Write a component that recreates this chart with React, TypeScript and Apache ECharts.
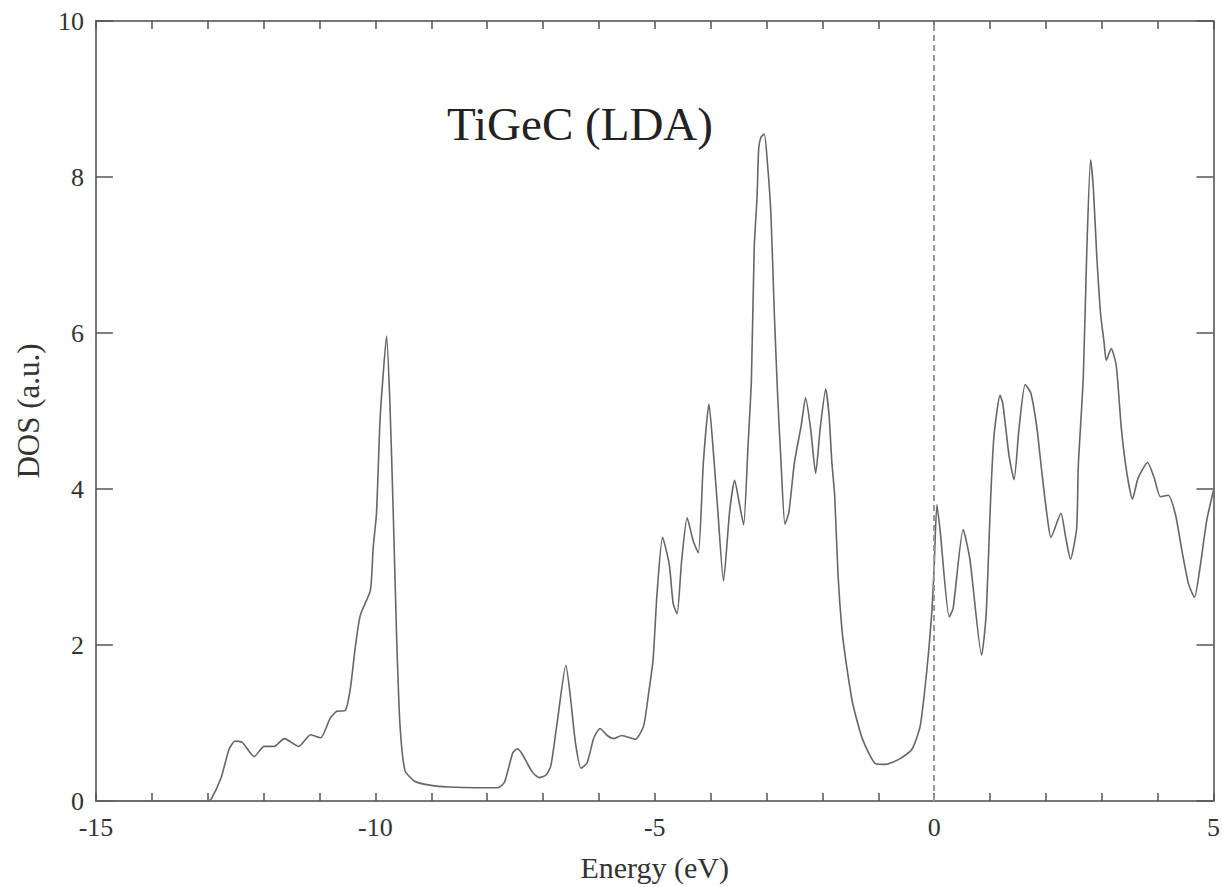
import React, { useEffect, useRef } from "react";
import * as echarts from "echarts";

const energy: number[] = [
  -15, -13.0, -12.94, -12.76, -12.62, -12.51, -12.38, -12.17, -11.99, -11.81, -11.63, -11.37,
  -11.16, -10.98, -10.81, -10.69, -10.54, -10.45, -10.36, -10.27, -10.09, -10.04, -9.98, -9.92,
  -9.88, -9.8, -9.74, -9.68, -9.62, -9.56, -9.47, -9.29, -9.0, -8.7, -8.2, -7.81, -7.69, -7.54,
  -7.46, -7.37, -7.19, -7.07, -6.95, -6.86, -6.74, -6.59, -6.51, -6.42, -6.32, -6.21, -6.09,
  -5.98, -5.85, -5.73, -5.59, -5.35, -5.2, -5.11, -5.03, -4.96, -4.86, -4.74, -4.67, -4.6,
  -4.52, -4.42, -4.31, -4.22, -4.13, -4.03, -3.96, -3.87, -3.77, -3.66, -3.57, -3.48, -3.41,
  -3.33, -3.27, -3.22, -3.17, -3.14, -3.1, -3.04, -2.98, -2.92, -2.86, -2.8, -2.74, -2.67,
  -2.6, -2.5, -2.38, -2.3, -2.21, -2.12, -2.04, -1.94, -1.88, -1.83, -1.78, -1.72, -1.65,
  -1.58, -1.46, -1.28, -1.05, -0.87, -0.64, -0.4, -0.25, -0.13, -0.04, 0.0, 0.05, 0.11, 0.27,
  0.34, 0.52, 0.64, 0.85, 0.93, 1.01, 1.07, 1.18, 1.23, 1.34, 1.43, 1.52, 1.63, 1.73, 1.84,
  1.93, 2.02, 2.09, 2.27, 2.35, 2.44, 2.55, 2.58, 2.67, 2.73, 2.8, 2.85, 2.91, 2.98, 3.04,
  3.08, 3.17, 3.26, 3.35, 3.45, 3.55, 3.65, 3.82, 3.94, 4.05, 4.19, 4.32, 4.43, 4.55, 4.66,
  4.76, 4.88, 5.0,
];

const dos: number[] = [
  0, 0, 0.02, 0.3, 0.66, 0.77, 0.75, 0.57, 0.7, 0.7, 0.8, 0.7,
  0.85, 0.81, 1.06, 1.15, 1.16, 1.43, 1.97, 2.38, 2.7, 3.24, 3.69, 4.83,
  5.28, 5.96, 5.1, 3.69, 2.11, 0.98, 0.39, 0.25, 0.2, 0.18, 0.17, 0.17, 0.24, 0.62,
  0.67, 0.6, 0.37, 0.3, 0.33, 0.45, 1.04, 1.74, 1.34, 0.75, 0.42, 0.49, 0.81,
  0.93, 0.84, 0.8, 0.84, 0.79, 0.96, 1.38, 1.81, 2.65, 3.38, 3.03, 2.53, 2.4,
  3.07, 3.63, 3.33, 3.18, 4.34, 5.09, 4.56, 3.71, 2.82, 3.71, 4.11, 3.79, 3.54,
  4.56, 5.4, 7.09, 7.73, 8.36, 8.51, 8.55, 8.15, 7.51, 6.25, 5.19, 4.34, 3.55,
  3.7, 4.34, 4.81, 5.17, 4.77, 4.2, 4.77, 5.28, 4.94, 4.34, 3.92, 2.9, 2.2,
  1.8, 1.26, 0.79, 0.48, 0.47, 0.53, 0.66, 0.96, 1.68, 2.44, 3.0, 3.8, 3.45, 2.36,
  2.47, 3.48, 3.1, 1.87, 2.38, 3.85, 4.67, 5.2, 5.09, 4.43, 4.12, 4.78, 5.34, 5.23, 4.78,
  4.2, 3.67, 3.38, 3.69, 3.4, 3.1, 3.49, 4.29, 5.44, 7.0, 8.22, 7.85, 7.0, 6.24, 5.89,
  5.65, 5.8, 5.58, 4.78, 4.2, 3.87, 4.14, 4.34, 4.14, 3.9, 3.92, 3.67, 3.23, 2.79, 2.61,
  3.0, 3.6, 3.98,
];

const xMajorLabels: number[] = [-15, -10, -5, 0, 5];
const fermiLevel: number[] = [0];
const chartTitle = "TiGeC (LDA)";
const xName = "Energy (eV)";
const yName = "DOS (a.u.)";

const FONT = "'Liberation Serif', 'DejaVu Serif', serif";

export default function App() {
  const ref = useRef<HTMLDivElement>(null);

  useEffect(() => {
    if (!ref.current) return;
    const chart = echarts.init(ref.current, null, { renderer: "svg" });
    const points = energy.map((e, i) => [e, dos[i]]);

    const axisLine = { show: true, onZero: false, lineStyle: { color: "#777", width: 2 } };
    const xTick = { show: true, inside: true, length: 8, lineStyle: { color: "#555", width: 1.5 } };
    const yTick = { show: true, inside: true, length: 17, lineStyle: { color: "#555", width: 1.5 } };

    chart.setOption({
      animation: false,
      backgroundColor: "#fff",
      title: {
        text: chartTitle,
        left: 447,
        top: 100,
        padding: 0,
        textStyle: { fontFamily: FONT, fontSize: 47, fontWeight: "normal", color: "#222" },
      },
      grid: { left: 96, top: 21, width: 1124, height: 788, containLabel: false },
      xAxis: [
        {
          type: "value",
          position: "bottom",
          min: -15,
          max: 5,
          interval: 1,
          axisLine,
          axisTick: xTick,
          splitLine: { show: false },
          axisLabel: {
            formatter: (v: number) => (xMajorLabels.includes(v) ? String(v) : ""),
            fontFamily: FONT,
            fontSize: 26,
            color: "#333",
            margin: 13,
            showMinLabel: true,
            showMaxLabel: true,
          },
          name: xName,
          nameLocation: "middle",
          nameGap: 51,
          nameTextStyle: { fontFamily: FONT, fontSize: 30, color: "#333" },
        },
        {
          type: "value",
          position: "top",
          min: -15,
          max: 5,
          interval: 1,
          axisLine,
          axisTick: xTick,
          splitLine: { show: false },
          axisLabel: { show: false },
        },
      ],
      yAxis: [
        {
          type: "value",
          position: "left",
          min: 0,
          max: 10,
          interval: 2,
          axisLine,
          axisTick: yTick,
          splitLine: { show: false },
          axisLabel: { fontFamily: FONT, fontSize: 26, color: "#333", margin: 12 },
          name: yName,
          nameLocation: "middle",
          nameGap: 52,
          nameTextStyle: { fontFamily: FONT, fontSize: 31, color: "#333" },
        },
        {
          type: "value",
          position: "right",
          min: 0,
          max: 10,
          interval: 2,
          axisLine,
          axisTick: yTick,
          splitLine: { show: false },
          axisLabel: { show: false },
        },
      ],
      series: [
        {
          type: "line",
          data: points,
          xAxisIndex: 0,
          yAxisIndex: 0,
          showSymbol: false,
          smooth: 0.2,
          lineStyle: { color: "#666", width: 1.6 },
          markLine: {
            silent: true,
            symbol: ["none", "none"],
            label: { show: false },
            lineStyle: { color: "#999", width: 2, type: [6, 4] },
            data: fermiLevel.map((x) => ({ xAxis: x })),
          },
        },
      ],
    });

    return () => chart.dispose();
  }, []);

  return (
    <div
      ref={ref}
      style={{ position: "fixed", left: 0, top: 0, width: 1223, height: 887, background: "#fff" }}
    />
  );
}
